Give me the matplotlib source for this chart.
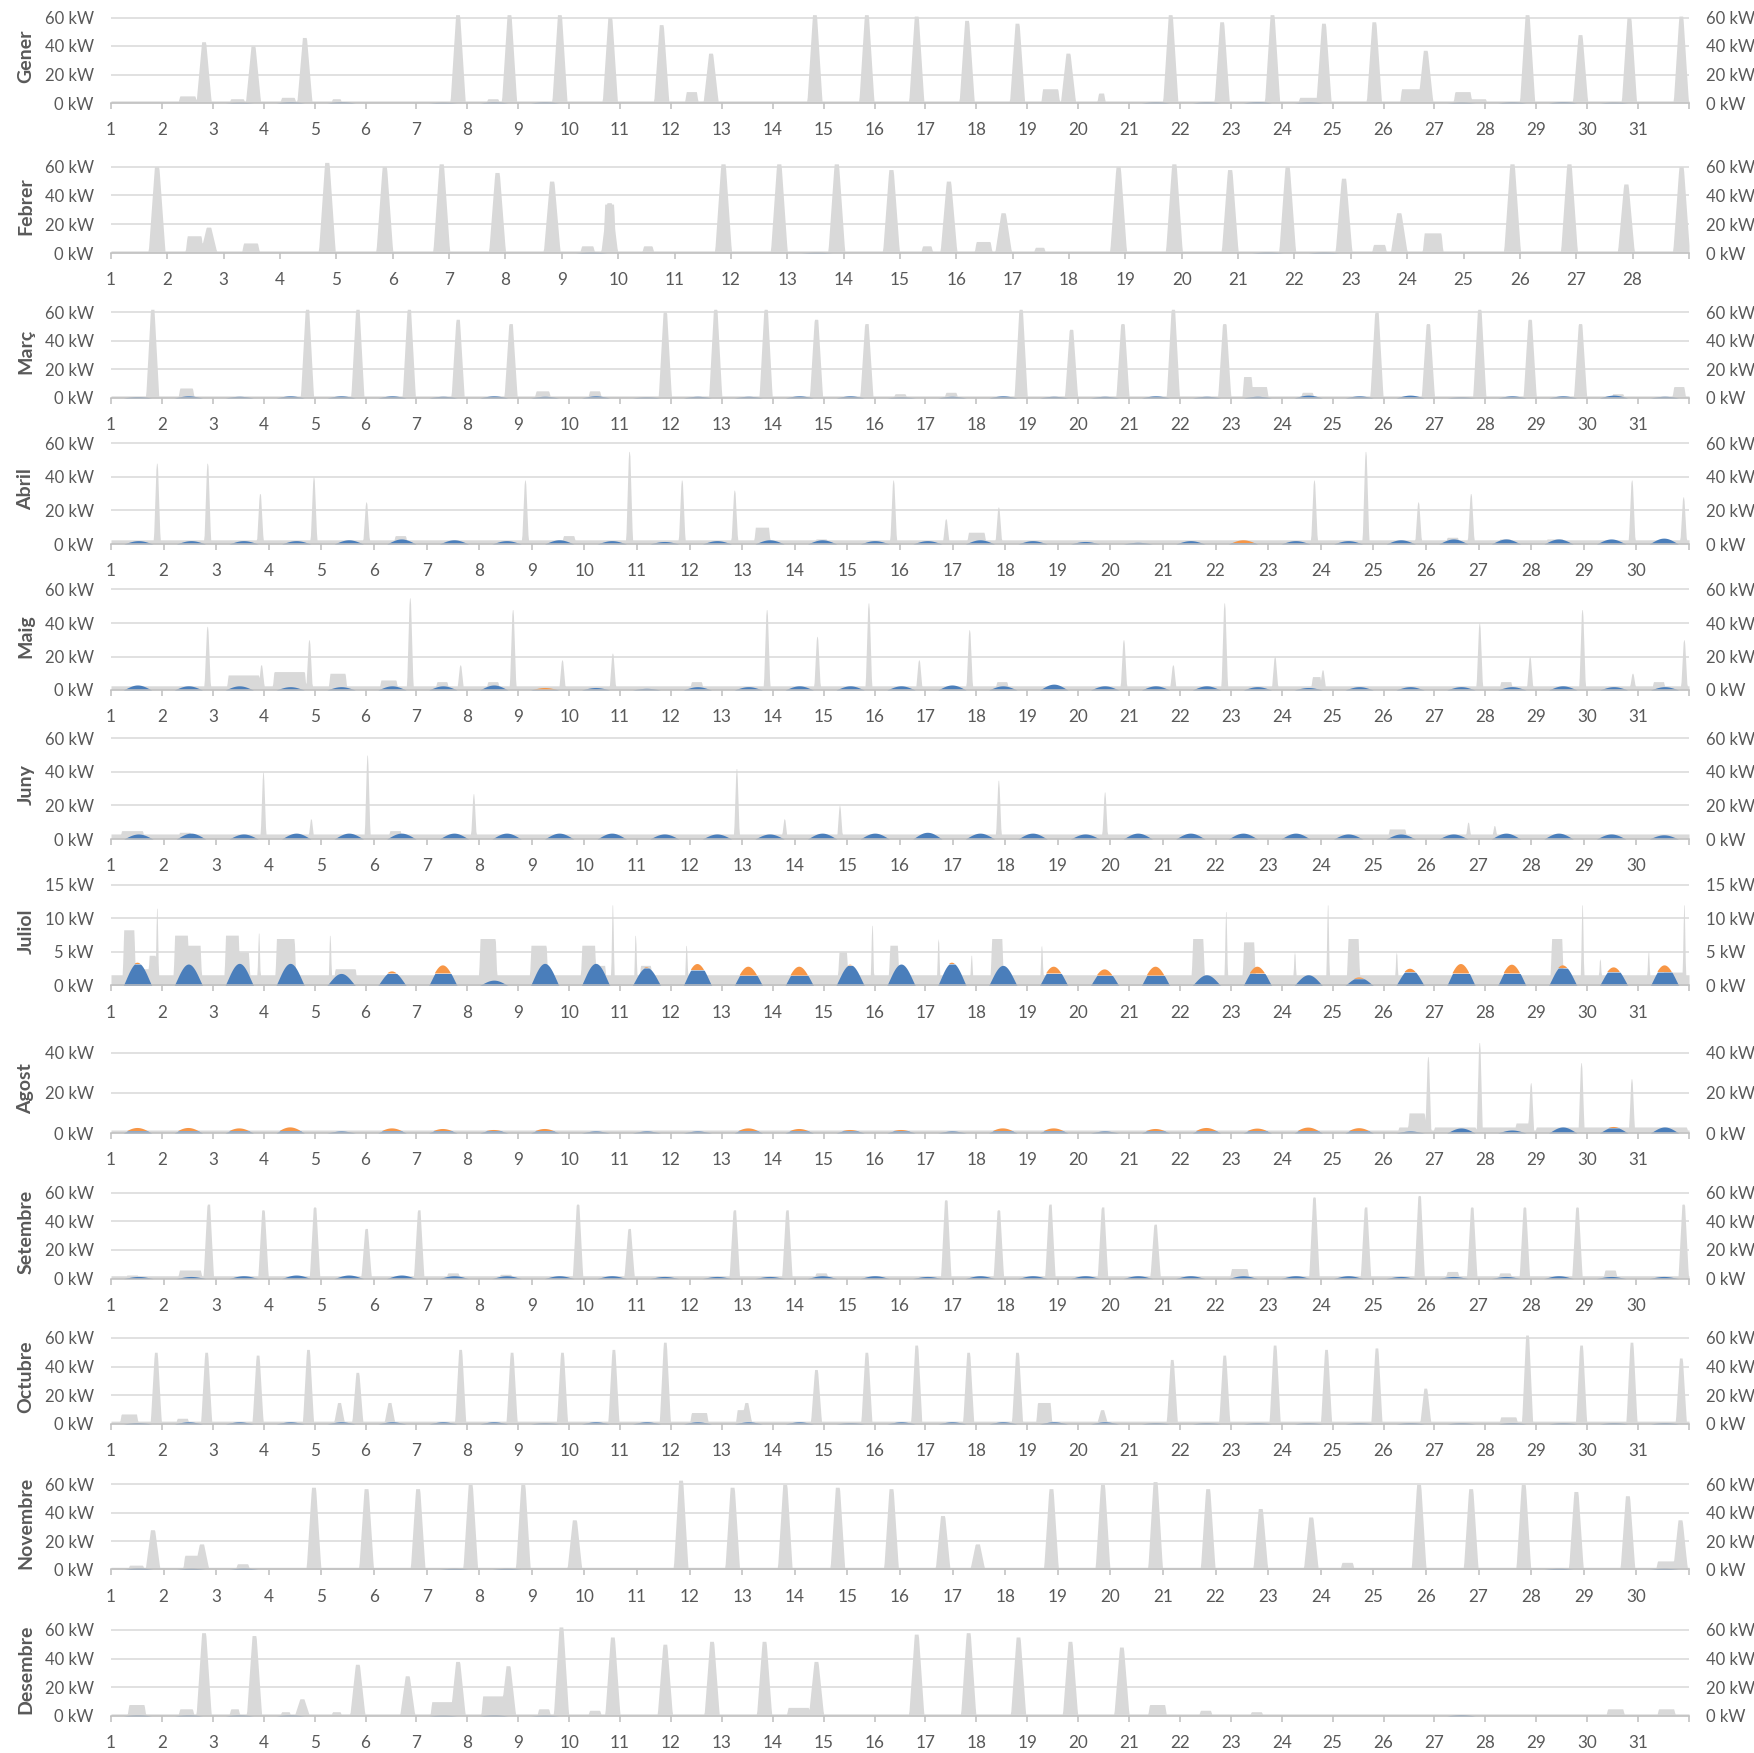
import numpy as np
import matplotlib.pyplot as plt

plt.rcParams['font.family'] = ['Lato', 'DejaVu Sans']

# Months, days and axis ranges
MESOS = ['Gener', 'Febrer', 'Març', 'Abril', 'Maig', 'Juny',
         'Juliol', 'Agost', 'Setembre', 'Octubre', 'Novembre', 'Desembre']
DIES = [31, 28, 31, 30, 31, 30, 31, 31, 30, 31, 30, 31]
MAX_KW = [60, 60, 60, 60, 60, 60, 15, 40, 60, 60, 60, 60]
PAS_KW = [20, 20, 20, 20, 20, 20, 5, 20, 20, 20, 20, 20]
BASE_KW = [1.5, 1.5, 1.5, 2.5, 2.5, 3.0, 1.6, 1.5, 2.0, 2.0, 1.5, 1.5]

# Consumption peaks (day position, kW) and plateaus (from, to, kW)
GENER_PICS = [(2.82, 43), (3.79, 40), (4.80, 46), (7.81, 62), (8.82, 62), (9.81, 62),
              (10.80, 60), (11.81, 55), (12.78, 35), (14.82, 62), (15.84, 62), (16.82, 61),
              (17.81, 58), (18.80, 56), (19.80, 35), (21.81, 62), (22.82, 57), (23.81, 62),
              (24.82, 56), (25.81, 57), (26.82, 37), (28.82, 62), (29.86, 48), (30.82, 60),
              (31.84, 61)]
GENER_TRAMS = [(2.35, 2.65, 5), (3.35, 3.6, 3), (4.35, 4.6, 4), (5.35, 5.5, 3), (8.4, 8.6, 3),
               (12.3, 12.5, 8), (19.3, 19.6, 10), (20.4, 20.5, 7), (24.35, 24.7, 4),
               (26.35, 26.7, 10), (27.4, 27.7, 8), (27.7, 28.0, 3)]
GENER_SOL = [0, 0, 0.5, 0.9, 0.9, 0, 0.5, 0.8, 0.8, 0, 0, 0, 0, 0, 0, 0, 0, 0, 0, 0,
             0.8, 0.8, 1.0, 0.8, 0, 0, 0.6, 0.8, 1.0, 0.6, 0]

FEBRER_PICS = [(1.81, 60), (2.73, 18), (4.83, 63), (5.85, 60), (6.86, 62), (7.85, 56),
               (8.82, 50), (9.84, 35), (11.86, 62), (12.85, 62), (13.87, 62), (14.84, 58),
               (15.86, 50), (16.83, 28), (18.87, 60), (19.86, 62), (20.85, 58), (21.87, 60),
               (22.87, 52), (23.85, 28), (25.86, 62), (26.87, 62), (27.88, 48), (28.86, 60)]
FEBRER_TRAMS = [(2.35, 2.6, 12), (3.35, 3.6, 7), (9.35, 9.55, 5), (9.76, 9.92, 34),
                (10.45, 10.6, 5), (15.4, 15.55, 5), (16.35, 16.6, 8), (17.4, 17.55, 4),
                (23.4, 23.6, 6), (24.3, 24.6, 14)]
FEBRER_SOL = [0, 0, 0, 0, 0, 0, 0, 0, 0.6, 0, 0, 0, 0.5, 0, 0, 0, 0, 0, 0, 0,
              0.6, 0.6, 0, 0, 0, 0, 0, 0]

MARC_PICS = [(1.81, 62), (4.85, 62), (5.84, 62), (6.85, 62), (7.81, 55), (8.85, 52),
             (11.88, 60), (12.87, 62), (13.86, 62), (14.85, 55), (15.84, 52), (18.87, 62),
             (19.86, 48), (20.87, 52), (21.86, 62), (22.87, 52), (25.86, 60), (26.87, 52),
             (27.88, 62), (28.87, 55), (29.86, 52)]
MARC_TRAMS = [(2.35, 2.6, 7), (9.35, 9.6, 5), (10.4, 10.6, 5), (16.4, 16.6, 3),
              (17.4, 17.6, 4), (23.25, 23.4, 15), (23.4, 23.7, 8), (24.4, 24.6, 4),
              (30.5, 30.7, 3), (31.7, 31.9, 8)]
MARC_SOL = [1.0, 1.5, 1.2, 1.5, 1.5, 1.5, 1.2, 1.5, 1.2, 1.5, 0.8, 1.2, 1.2, 1.5, 1.5, 0.8,
            1.2, 1.5, 1.2, 1.2, 1.5, 1.2, 1.2, 2.0, 1.5, 2.0, 0.8, 1.5, 1.5, 2.0, 1.2]

ABRIL_PICS = [(1.87, 48), (2.83, 48), (3.83, 30), (4.85, 40), (5.85, 25), (8.87, 38),
              (10.85, 55), (11.85, 38), (12.85, 32), (15.87, 38), (16.87, 15), (17.87, 22),
              (23.87, 38), (24.85, 55), (25.85, 25), (26.85, 30), (29.91, 38), (30.89, 28)]
ABRIL_TRAMS = [(6.4, 6.6, 5), (9.6, 9.8, 5), (13.25, 13.5, 10), (14.4, 14.6, 3),
               (17.3, 17.6, 7), (26.4, 26.6, 4), (27.4, 27.6, 3), (28.3, 28.6, 3)]
ABRIL_SOL = [2, 2, 2, 2, 2.5, 3, 2.5, 2, 2.5, 2, 1.5, 2, 2.5, 2.5, 2, 2, 2.5, 2, 1.5, 1,
             2, 2.5, 2, 2, 2.5, 3, 3, 3, 3, 3.5]
ABRIL_AUTO = [2, 2, 2, 2, 2.5, 3, 2.5, 2, 2.5, 2, 1.5, 2, 2.5, 2.5, 2, 2, 2.5, 2, 1.5, 1,
              2, 0.8, 2, 2, 2.5, 3, 3, 3, 3, 3.5]

MAIG_PICS = [(2.89, 38), (3.95, 15), (4.89, 30), (6.87, 55), (7.86, 15), (8.89, 48),
             (9.86, 18), (10.85, 22), (13.88, 48), (14.87, 32), (15.88, 52), (16.87, 18),
             (17.86, 36), (20.89, 30), (21.86, 15), (22.87, 52), (23.86, 20), (24.8, 12),
             (27.88, 40), (28.87, 20), (29.9, 48), (30.89, 10), (31.9, 30)]
MAIG_TRAMS = [(3.3, 3.9, 9), (4.2, 4.8, 11), (5.3, 5.6, 10), (6.3, 6.6, 6), (7.4, 7.6, 5),
              (8.4, 8.6, 5), (12.4, 12.6, 5), (18.4, 18.6, 5), (24.6, 24.75, 8),
              (28.3, 28.5, 5), (31.3, 31.5, 5)]
MAIG_SOL = [3, 2.5, 2.5, 2, 2, 2.5, 2.5, 3, 1.5, 1.5, 1, 2, 2, 2.5, 2.5, 2.5, 3, 2.5, 3.5,
            2.5, 2.5, 2.5, 2, 1.5, 2, 2, 2, 2, 2.5, 2, 2]
MAIG_AUTO = [3, 2.5, 2.5, 2, 2, 2.5, 2.5, 3, 0.3, 1.5, 1, 2, 2, 2.5, 2.5, 2.5, 3, 2.5, 3.5,
             2.5, 2.5, 2.5, 2, 1.5, 2, 2, 2, 2, 2.5, 2, 2]

JUNY_PICS = [(3.89, 40), (4.8, 12), (5.87, 50), (7.89, 27), (12.89, 42), (13.8, 12),
             (14.85, 20), (17.87, 35), (19.89, 28), (26.8, 10), (27.3, 8)]
JUNY_TRAMS = [(1.2, 1.6, 5), (2.3, 2.5, 4), (6.3, 6.5, 5), (25.3, 25.6, 6)]
JUNY_SOL = [3, 3.5, 3, 3.5, 3.5, 3.5, 3.5, 3.5, 3.5, 3.5, 3, 3, 3, 3.5, 3.5, 4, 3.5, 3.5,
            3, 3.5, 3.5, 3.5, 3.5, 3, 3, 3, 3.5, 3.5, 3, 2.5]

JULIOL_PICS = [(1.9, 11.5), (3.9, 7.8), (5.3, 7.5), (10.85, 12), (11.3, 7.5), (12.3, 6),
               (15.95, 9), (17.25, 7), (17.9, 4.5), (19.28, 6), (22.9, 11), (24.25, 5),
               (24.9, 12), (26.25, 5), (29.9, 12), (30.25, 4), (31.2, 5), (31.9, 12)]
JULIOL_TRAMS = [(1.25, 1.45, 8.3), (1.45, 1.75, 2.5), (1.75, 1.87, 4.5), (2.25, 2.5, 7.5),
                (2.5, 2.75, 6), (3.25, 3.5, 7.5), (3.5, 3.7, 5), (4.25, 4.6, 7),
                (5.4, 5.8, 2.5), (8.25, 8.55, 7), (9.25, 9.55, 6), (10.25, 10.5, 6),
                (10.5, 10.7, 3), (11.4, 11.6, 3), (15.3, 15.45, 5), (16.3, 16.45, 6),
                (18.3, 18.5, 7), (22.25, 22.45, 7), (23.25, 23.45, 6.5), (25.3, 25.5, 7),
                (29.3, 29.5, 7), (31.5, 31.9, 2)]
JULIOL_SOL = [3.4, 3.2, 3.3, 3.3, 1.8, 2.1, 3.0, 0.8, 3.3, 3.3, 2.7, 3.2, 2.8, 2.8, 3.1,
              3.2, 3.4, 3.0, 2.8, 2.4, 2.8, 1.6, 2.8, 1.6, 1.2, 2.5, 3.2, 3.1, 3.0, 2.7, 3.0]
JULIOL_AUTO = [3.2, 3.2, 3.3, 3.3, 1.8, 1.8, 1.8, 0.8, 3.3, 3.3, 2.6, 2.3, 1.5, 1.5, 3.0,
               3.2, 3.2, 3.0, 1.8, 1.5, 1.5, 1.6, 1.8, 1.6, 1.0, 2.0, 1.8, 1.8, 2.6, 2.0, 2.0]

AGOST_PICS = [(26.87, 38), (27.88, 45), (28.89, 25), (29.88, 35), (30.87, 27)]
AGOST_TRAMS = [(26.3, 26.5, 3), (26.5, 26.8, 10), (27.0, 27.8, 3), (27.9, 28.6, 3),
               (28.6, 28.85, 5), (29.0, 31.95, 3)]
AGOST_SOL = [2.5, 2.5, 2.3, 2.8, 1.0, 2.3, 2.0, 1.5, 2.0, 1.0, 1.0, 1.0, 2.3, 2.0, 1.5,
             1.5, 1.0, 2.3, 2.3, 1.0, 2.0, 2.5, 2.2, 2.7, 2.4, 1.0, 2.5, 1.5, 3.0, 3.0, 3.0]
AGOST_AUTO = [1.0, 1.0, 1.0, 1.0, 1.0, 1.0, 1.0, 1.0, 1.0, 1.0, 1.0, 1.0, 1.0, 1.0, 1.0,
              1.0, 1.0, 1.0, 1.0, 1.0, 1.0, 1.0, 1.0, 1.0, 1.0, 1.0, 2.5, 1.5, 3.0, 2.5, 3.0]

SETEMBRE_PICS = [(2.85, 52), (3.89, 48), (4.87, 50), (5.85, 35), (6.85, 48), (9.87, 52),
                 (10.85, 35), (12.85, 48), (13.85, 48), (16.87, 55), (17.87, 48),
                 (18.85, 52), (19.85, 50), (20.85, 38), (23.87, 57), (24.85, 50),
                 (25.87, 58), (26.87, 50), (27.87, 50), (28.87, 50), (30.89, 52)]
SETEMBRE_TRAMS = [(1.3, 1.5, 2.5), (2.3, 2.7, 6), (7.4, 7.6, 4), (8.4, 8.6, 3),
                  (14.4, 14.6, 4), (22.3, 22.6, 7), (26.4, 26.6, 5), (27.4, 27.6, 4),
                  (29.4, 29.6, 6)]
SETEMBRE_SOL = [1.5, 1.5, 2, 2.5, 2.5, 2.5, 2, 2, 2, 2, 1.5, 1.5, 1.5, 2, 2, 1.5, 2, 2, 2, 2,
                2, 2, 2, 2, 1.5, 1.5, 1.5, 2, 1.5, 1.5]

OCTUBRE_PICS = [(1.88, 50), (2.87, 50), (3.88, 48), (4.87, 52), (5.48, 15), (5.84, 36),
                (6.47, 15), (7.86, 52), (8.87, 50), (9.86, 50), (10.87, 52), (11.88, 57),
                (13.48, 15), (14.85, 38), (15.84, 50), (16.82, 55), (17.84, 50), (18.8, 50),
                (20.47, 10), (21.84, 45), (22.87, 48), (23.86, 55), (24.87, 52), (25.86, 53),
                (26.82, 25), (28.82, 62), (29.88, 55), (30.87, 57), (31.84, 46)]
OCTUBRE_TRAMS = [(1.2, 1.5, 7), (2.3, 2.5, 4), (12.4, 12.7, 8), (13.3, 13.45, 10),
                 (19.2, 19.45, 15), (28.3, 28.6, 5)]
OCTUBRE_SOL = [1, 1.5, 1.5, 1.5, 1.5, 1.5, 1.5, 1.5, 1, 1.5, 1.5, 1.5, 1.5, 1.5, 1, 1.5,
               1.5, 1.5, 1.5, 1.5, 1, 1, 1, 1, 1, 1, 1, 1, 1, 1, 1]

NOVEMBRE_PICS = [(1.79, 28), (2.72, 18), (4.85, 58), (5.85, 57), (6.83, 57), (7.83, 60),
                 (8.83, 60), (9.81, 35), (11.83, 63), (12.81, 58), (13.81, 60), (14.81, 58),
                 (15.83, 57), (16.81, 38), (17.47, 18), (18.87, 57), (19.85, 60),
                 (20.85, 62), (21.85, 57), (22.85, 43), (23.81, 37), (25.86, 60),
                 (26.85, 57), (27.85, 60), (28.85, 55), (29.83, 52), (30.83, 35)]
NOVEMBRE_TRAMS = [(1.35, 1.6, 3), (2.4, 2.65, 10), (3.4, 3.6, 4), (24.4, 24.6, 5),
                  (30.4, 30.7, 6)]
NOVEMBRE_SOL = [1, 0.8, 1, 0, 0, 0, 0.8, 0.8, 0, 0, 0, 0, 0, 0, 0, 0, 0, 0, 0, 0,
                0, 0, 0, 0, 0, 0, 0, 0.8, 0, 0.8]

DESEMBRE_PICS = [(2.82, 58), (3.81, 56), (4.75, 12), (5.84, 36), (6.82, 28), (7.81, 38),
                 (8.8, 35), (9.84, 62), (10.85, 55), (11.88, 50), (12.8, 52), (13.83, 52),
                 (14.85, 38), (16.82, 57), (17.84, 58), (18.82, 55), (19.84, 52), (20.85, 48)]
DESEMBRE_TRAMS = [(1.35, 1.65, 8), (2.35, 2.6, 5), (3.35, 3.5, 5), (4.35, 4.5, 3),
                  (5.35, 5.5, 3), (7.3, 7.7, 10), (8.3, 8.7, 14), (9.4, 9.6, 5),
                  (10.4, 10.6, 4), (14.3, 14.7, 6), (21.4, 21.7, 8), (22.4, 22.6, 4),
                  (23.4, 23.6, 3), (30.4, 30.7, 5), (31.4, 31.7, 5)]
DESEMBRE_SOL = [0.8, 0.8, 0.8, 0.8, 0, 0, 0.6, 0.8, 0.6, 0, 0, 0, 0, 0, 0, 0, 0, 0, 0, 0,
                0, 0, 0, 0, 0, 0, 1.0, 0, 0, 0, 0]

PICS = [GENER_PICS, FEBRER_PICS, MARC_PICS, ABRIL_PICS, MAIG_PICS, JUNY_PICS,
        JULIOL_PICS, AGOST_PICS, SETEMBRE_PICS, OCTUBRE_PICS, NOVEMBRE_PICS, DESEMBRE_PICS]
TRAMS = [GENER_TRAMS, FEBRER_TRAMS, MARC_TRAMS, ABRIL_TRAMS, MAIG_TRAMS, JUNY_TRAMS,
         JULIOL_TRAMS, AGOST_TRAMS, SETEMBRE_TRAMS, OCTUBRE_TRAMS, NOVEMBRE_TRAMS,
         DESEMBRE_TRAMS]
SOL = [GENER_SOL, FEBRER_SOL, MARC_SOL, ABRIL_SOL, MAIG_SOL, JUNY_SOL,
       JULIOL_SOL, AGOST_SOL, SETEMBRE_SOL, OCTUBRE_SOL, NOVEMBRE_SOL, DESEMBRE_SOL]
AUTO = [GENER_SOL, FEBRER_SOL, MARC_SOL, ABRIL_AUTO, MAIG_AUTO, JUNY_SOL,
        JULIOL_AUTO, AGOST_AUTO, SETEMBRE_SOL, OCTUBRE_SOL, NOVEMBRE_SOL, DESEMBRE_SOL]

# Layout (pixels in a 1754x1753 figure): y of 0 kW line, y of top gridline
W, H = 1754, 1753
Y0 = [103, 253, 398, 544, 690, 839, 985.5, 1133, 1278.6, 1424, 1569.4, 1716]
Y1 = [17.5, 166.7, 312.1, 443, 589.5, 738.3, 884.8, 1052.6, 1192.6, 1337.9, 1484.4, 1629.8]
X_LEFT, X_RIGHT = 111, 1689
# spike half-width at the base / at the top (days)
AMPLADA = [0.15, 0.15, 0.13, 0.065, 0.065, 0.055, 0.035, 0.06, 0.1, 0.11, 0.14, 0.15]
CIM = [0.04, 0.04, 0.035, 0.012, 0.012, 0.01, 0.008, 0.012, 0.025, 0.03, 0.04, 0.04]
RAMPA = 0.035

GRIS = '#D9D9D9'
BLAU = '#4A7EBB'
TARONJA = '#F79646'
TEXT = '#595959'

fig = plt.figure(figsize=(W / 100, H / 100), dpi=100)


def consum(base, pics, trams, amplada, cim, t):
    y = np.full_like(t, base)
    for a, b, v in trams:
        k = np.clip(np.minimum(t - a + RAMPA, b + RAMPA - t) / RAMPA, 0, 1)
        y = np.maximum(y, v * k)
    for c, h in pics:
        d = np.abs(t - c)
        k = np.clip((amplada - d) / (amplada - cim), 0, 1)
        y = np.maximum(y, h * k)
    return y


for i, mes in enumerate(MESOS):
    n = DIES[i]
    t = 1 + np.arange(n * 96 + 1) / 96
    y = consum(BASE_KW[i], PICS[i], TRAMS[i], AMPLADA[i], CIM[i], t)

    dia = np.clip(np.floor(t).astype(int) - 1, 0, n - 1)
    f = t - np.floor(t)
    campana = np.clip(np.sin(np.pi * (f - 0.24) / 0.56), 0, None) ** 1.1
    campana[(f < 0.24) | (f > 0.80)] = 0
    prod = np.array(SOL[i])[dia] * campana
    blau = np.minimum(prod, np.array(AUTO[i])[dia])
    taronja = prod - blau

    ymax = MAX_KW[i]
    top = ymax * 1.2
    bottom_px = Y0[i]
    top_px = Y0[i] - (Y0[i] - Y1[i]) * top / ymax
    ax = fig.add_axes([X_LEFT / W, 1 - bottom_px / H, (X_RIGHT - X_LEFT) / W,
                       (bottom_px - top_px) / H])
    ax.patch.set_alpha(0)

    ax.fill_between(t, 0, y, color=GRIS, lw=0, zorder=2)
    ax.fill_between(t, 0, blau, color=BLAU, lw=0, zorder=3)
    ax.fill_between(t, blau, blau + taronja, where=taronja > 0.01, color=TARONJA,
                    lw=0, zorder=3)

    ax.set_xlim(1, n + 1)
    ax.set_ylim(0, top)
    ticks_y = np.arange(0, ymax + 1, PAS_KW[i])
    ax.set_yticks(ticks_y)
    ax.set_yticklabels([f'{v} kW' for v in ticks_y])
    for v in ticks_y[1:]:
        ax.axhline(v, color=GRIS, lw=1.1, zorder=1)

    ax.set_xticks(np.arange(1, n + 2))
    ax.set_xticklabels([str(d) for d in range(1, n + 1)] + [''])

    for s in ['top', 'left', 'right']:
        ax.spines[s].set_visible(False)
    ax.spines['bottom'].set_color('#BFBFBF')
    ax.spines['bottom'].set_linewidth(1.1)
    ax.spines['bottom'].set_zorder(4)

    ax.tick_params(axis='y', length=0, pad=12.5, labelsize=12, labelcolor=TEXT,
                   labelleft=True, labelright=True)
    ax.tick_params(axis='x', length=4.5, width=1.1, color='#BFBFBF', pad=9.5,
                   labelsize=12.3, labelcolor=TEXT)

    fig.text(26 / W, 1 - ((Y0[i] + Y1[i]) / 2 - 4) / H, mes, rotation=90,
             ha='center', va='center', fontsize=14, fontweight='bold', color=TEXT)

fig.savefig('out.png', dpi=100)
